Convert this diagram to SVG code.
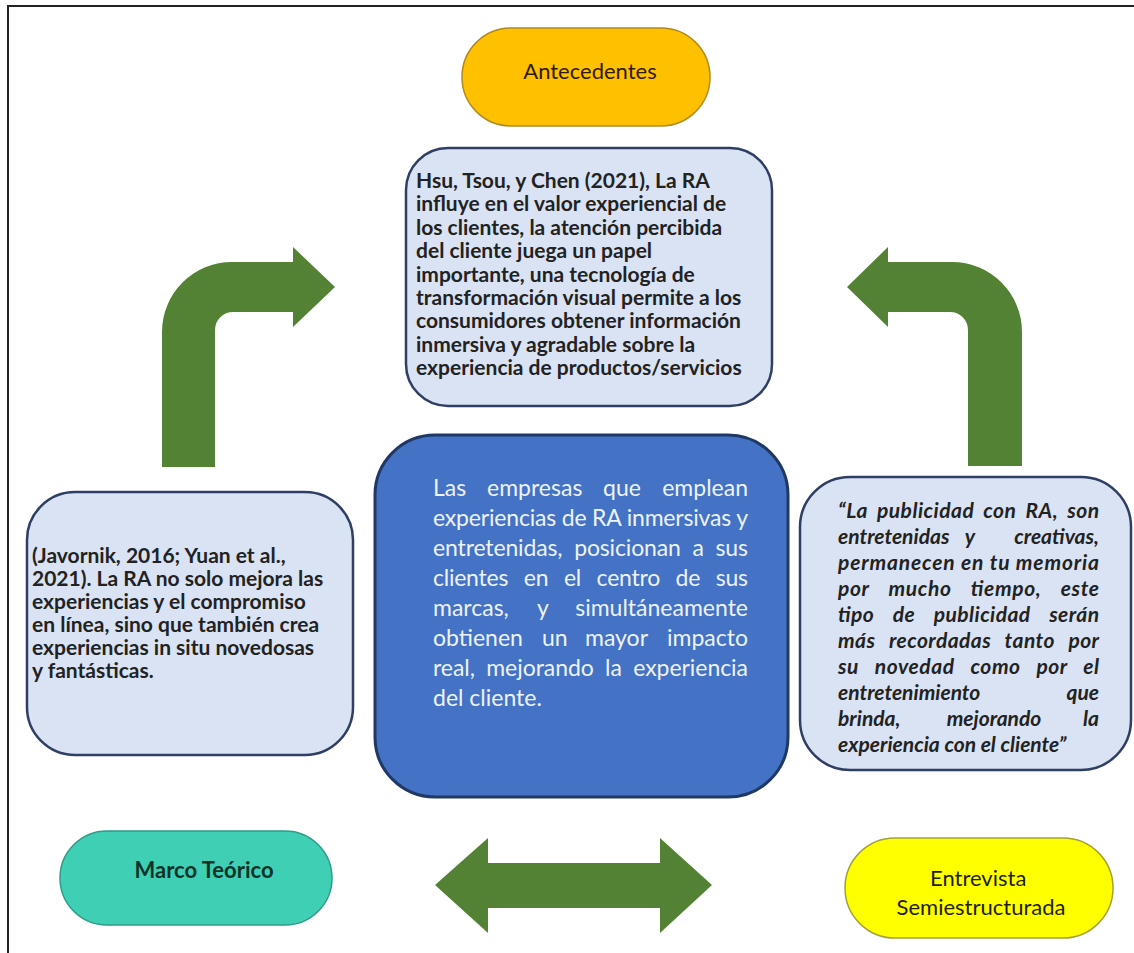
<svg xmlns="http://www.w3.org/2000/svg" width="1134" height="953" viewBox="0 0 1134 953">
  <style>
    .card { fill: #dae3f3; stroke: #2f3e64; stroke-width: 2.5; }
    .core { fill: #4472c4; stroke: #1f3864; stroke-width: 3; }
    .arrow { fill: #548235; }
    .body { font-family: Lato, "Open Sans", "Liberation Sans", sans-serif; font-weight: bold; font-size: 21px; fill: #222; }
    .quote { font-family: Lato, "Open Sans", "Liberation Sans", sans-serif; font-weight: bold; font-style: italic; font-size: 21px; fill: #222; }
    .core-text { font-family: Lato, "Open Sans", "Liberation Sans", sans-serif; font-size: 23px; fill: #eef2fa; }
    .pill-text { font-family: Lato, "Open Sans", "Liberation Sans", sans-serif; font-size: 22px; text-anchor: middle; }
  </style>

  <!-- outer frame -->
  <path d="M8,953 V6 H1134" fill="none" stroke="#222" stroke-width="2"/>

  <!-- connectors -->
  <g id="connectors">
    <path id="arrow-left-up" class="arrow" d="M162,467 L162,332 A70,70 0 0 1 232,262 L293,262 L293,247 L335,287 L293,327 L293,312 L233,312 A18,18 0 0 0 215,330 L215,467 Z"/>
    <path id="arrow-right-up" class="arrow" transform="translate(1183,0) scale(-1,1)" d="M161,466 L161,332 A70,70 0 0 1 231,262 L295,262 L295,247 L336,287 L295,327 L295,312 L233,312 A18,18 0 0 0 215,330 L215,466 Z"/>
    <path id="arrow-both" class="arrow" d="M435,885 L488,838 L488,863 L660,863 L660,838 L712,885 L660,933 L660,908 L488,908 L488,933 Z"/>
  </g>

  <!-- header pill -->
  <g id="antecedentes">
    <rect x="462" y="28" width="248" height="98" rx="49" fill="#ffc000" stroke="#b08a1c" stroke-width="1.5"/>
    <text class="pill-text" x="590" y="79" fill="#2e1a00">Antecedentes</text>
  </g>

  <!-- literature box -->
  <g id="antecedentes-texto">
    <rect class="card" x="406" y="148" width="366" height="258" rx="42"/>
    <text class="body">
      <tspan x="416" y="188">Hsu, Tsou, y Chen (2021), La RA</tspan>
      <tspan x="416" y="211.4">influye en el valor experiencial de</tspan>
      <tspan x="416" y="234.8">los clientes, la atención percibida</tspan>
      <tspan x="416" y="258.2">del cliente juega un papel</tspan>
      <tspan x="416" y="281.6">importante, una tecnología de</tspan>
      <tspan x="416" y="305">transformación visual permite a los</tspan>
      <tspan x="416" y="328.4">consumidores obtener información</tspan>
      <tspan x="416" y="351.8">inmersiva y agradable sobre la</tspan>
      <tspan x="416" y="375.2">experiencia de productos/servicios</tspan>
    </text>
  </g>

  <!-- theory box -->
  <g id="marco-texto">
    <rect class="card" x="27" y="492" width="326" height="263" rx="48"/>
    <text class="body">
      <tspan x="32" y="563">(Javornik, 2016; Yuan et al.,</tspan>
      <tspan x="32" y="586">2021). La RA no solo mejora las</tspan>
      <tspan x="32" y="609">experiencias y el compromiso</tspan>
      <tspan x="32" y="632">en línea, sino que también crea</tspan>
      <tspan x="32" y="655">experiencias in situ novedosas</tspan>
      <tspan x="32" y="678">y fantásticas.</tspan>
    </text>
  </g>

  <!-- central statement -->
  <g id="centro">
    <rect class="core" x="375" y="435" width="413" height="362" rx="60"/>
    <g class="core-text">
      <text y="496"><tspan x="433">Las</tspan><tspan x="487">empresas</tspan><tspan x="603">que</tspan><tspan x="748" text-anchor="end">emplean</tspan></text>
      <text x="433" y="526" textLength="315" lengthAdjust="spacing">experiencias de RA inmersivas y</text>
      <text x="433" y="556" word-spacing="6" textLength="315" lengthAdjust="spacing">entretenidas, posicionan a sus</text>
      <text x="433" y="586" word-spacing="10" textLength="315" lengthAdjust="spacing">clientes en el centro de sus</text>
      <text y="616"><tspan x="433">marcas,</tspan><tspan x="537">y</tspan><tspan x="748" text-anchor="end">simultáneamente</tspan></text>
      <text y="646"><tspan x="433">obtienen</tspan><tspan x="542">un</tspan><tspan x="585">mayor</tspan><tspan x="748" text-anchor="end">impacto</tspan></text>
      <text x="433" y="676" word-spacing="5.5" textLength="315" lengthAdjust="spacing">real, mejorando la experiencia</text>
      <text x="433" y="706">del cliente.</text>
    </g>
  </g>

  <!-- interview box -->
  <g id="entrevista-texto">
    <rect class="card" x="800" y="477" width="331" height="293" rx="50"/>
    <g class="quote">
      <text x="838" y="518" word-spacing="4" textLength="261" lengthAdjust="spacing">“La publicidad con RA, son</text>
      <text y="544"><tspan x="838">entretenidas</tspan><tspan x="970" text-anchor="middle">y</tspan><tspan x="1099" text-anchor="end">creativas,</tspan></text>
      <text x="838" y="570" textLength="261" lengthAdjust="spacing">permanecen en tu memoria</text>
      <text x="838" y="596" word-spacing="14" textLength="261" lengthAdjust="spacing">por mucho tiempo, este</text>
      <text x="838" y="622" word-spacing="13.5" textLength="261" lengthAdjust="spacing">tipo de publicidad serán</text>
      <text x="838" y="648" word-spacing="8.5" textLength="261" lengthAdjust="spacing">más recordadas tanto por</text>
      <text x="838" y="674" word-spacing="10.5" textLength="261" lengthAdjust="spacing">su novedad como por el</text>
      <text y="700"><tspan x="838">entretenimiento</tspan><tspan x="1099" text-anchor="end">que</tspan></text>
      <text y="726"><tspan x="838">brinda,</tspan><tspan x="994" text-anchor="middle">mejorando</tspan><tspan x="1099" text-anchor="end">la</tspan></text>
      <text x="838" y="752">experiencia con el cliente”</text>
    </g>
  </g>

  <!-- bottom pills -->
  <g id="marco-teorico">
    <rect x="60" y="831" width="272" height="94" rx="47" fill="#3ecfb4" stroke="#2e9c88" stroke-width="1.5"/>
    <text class="pill-text" x="204" y="878" font-weight="bold" fill="#0c3328">Marco Teórico</text>
  </g>

  <g id="entrevista">
    <rect x="845" y="838" width="268" height="100" rx="50" fill="#ffff00" stroke="#a3a236" stroke-width="1.5"/>
    <text class="pill-text" fill="#1e1e00">
      <tspan x="981" y="886">Entrevista</tspan>
      <tspan x="981" y="915">Semiestructurada</tspan>
    </text>
  </g>
</svg>
